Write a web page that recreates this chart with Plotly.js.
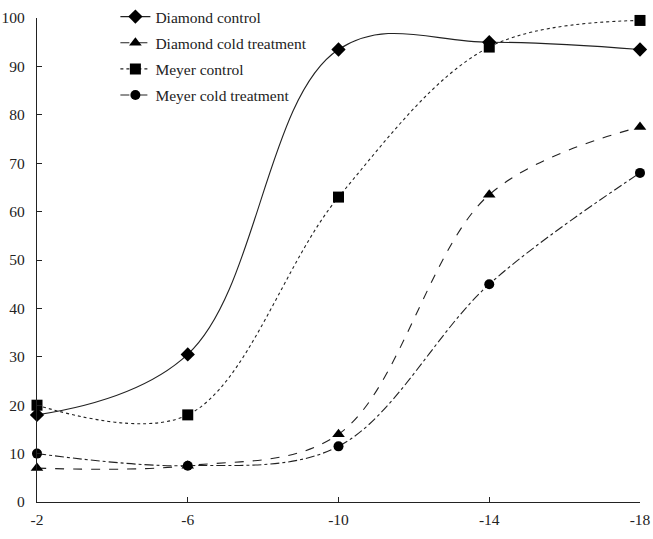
<!DOCTYPE html>
<html>
<head>
<meta charset="utf-8">
<script src="https://cdn.plot.ly/plotly-3.0.1.min.js"></script>
<style>html,body{margin:0;padding:0;background:#fff;}#chart{width:653px;height:539px;}</style>
</head>
<body>
<div id="chart"></div>
<script>
const temps = [-2, -6, -10, -14, -18];
const tickLabels = ['-2', '-6', '-10', '-14', '-18'];
const diamondControl = [18, 30.5, 93.5, 95, 93.5];
const diamondCold = [7, 7.5, 14, 63.5, 77.5];
const meyerControl = [20, 18, 63, 94, 99.5];
const meyerCold = [10, 7.5, 11.5, 45, 68];

function tr(name, y, symbol, dash, size, sm) {
  return {
    x: temps, y: y, name: name, type: 'scatter', mode: 'lines+markers', legendgroup: name,
    line: {shape: 'spline', smoothing: sm, color: '#222', width: 1.1, dash: dash},
    marker: {symbol: symbol, size: size, color: '#000'},
    cliponaxis: false
  };
}
const data = [
  tr('Diamond control', diamondControl, 'diamond', 'solid', 11, 1.1),
  tr('Diamond cold treatment', diamondCold, 'triangle-up', 'dash', 11, 1),
  tr('Meyer control', meyerControl, 'square', 'dot', 11, 1),
  tr('Meyer cold treatment', meyerCold, 'circle', 'dashdot', 10, 1)
];
const F = '"Liberation Serif", "Times New Roman", serif';
const layout = {
  width: 653, height: 539,
  margin: {l: 37, r: 13, t: 0, b: 37},
  paper_bgcolor: '#fff', plot_bgcolor: '#fff',
  font: {family: F, size: 15.5, color: '#222'},
  showlegend: true,
  legend: {x: 0.13, y: 1, xanchor: 'left', yanchor: 'top', bgcolor: 'rgba(0,0,0,0)',
           font: {family: F, size: 15.5, color: '#222'}, tracegroupgap: 3},
  xaxis: {range: [-2, -18], tickvals: temps, ticktext: tickLabels, showgrid: false, zeroline: false,
          showline: true, linecolor: '#222', linewidth: 1.2, ticks: 'inside', ticklen: 5, tickcolor: '#222',
          ticklabelstandoff: 3},
  yaxis: {range: [0, 100], dtick: 10, showgrid: false, zeroline: false, domain: [0, 0.9641],
          showline: true, linecolor: '#222', linewidth: 1.2, ticks: 'inside', ticklen: 5, tickcolor: '#222',
          ticklabelstandoff: 8}
};
Plotly.newPlot('chart', data, layout, {displayModeBar: false, staticPlot: true});
</script>
</body>
</html>
